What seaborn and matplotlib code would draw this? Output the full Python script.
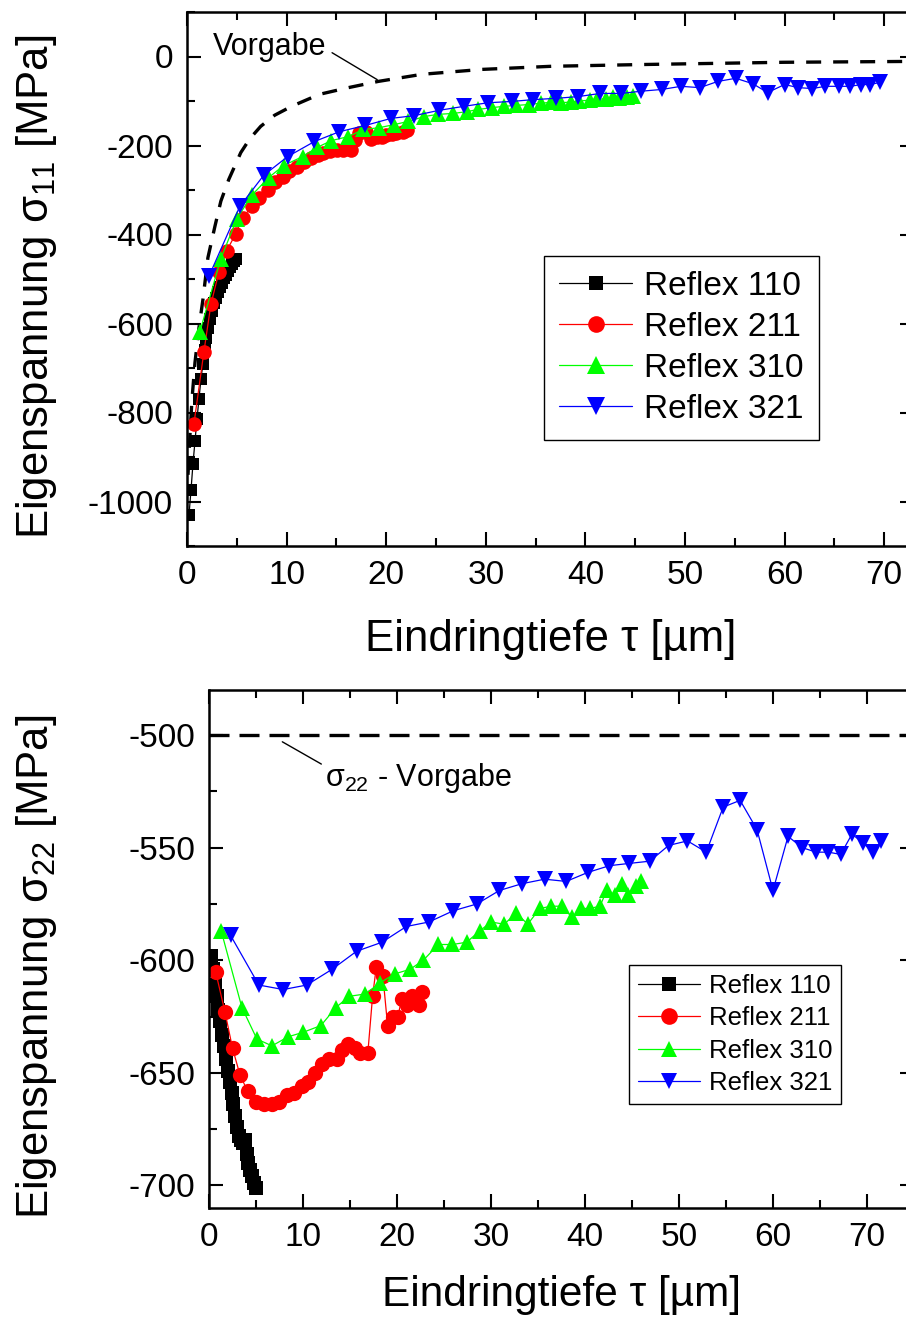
import matplotlib
matplotlib.use("Agg")
import matplotlib.pyplot as plt
from matplotlib.ticker import MultipleLocator
from matplotlib.lines import Line2D
import seaborn as sns

sns.set_theme(style="ticks")
plt.rcParams["font.family"] = ["Liberation Sans", "DejaVu Sans"]
plt.rcParams["mathtext.fontset"] = "custom"
plt.rcParams["mathtext.rm"] = "Liberation Sans"
plt.rcParams["mathtext.it"] = "Liberation Sans"
plt.rcParams["axes.unicode_minus"] = False
for key in ["text.color", "axes.labelcolor", "xtick.color", "ytick.color",
            "axes.edgecolor"]:
    plt.rcParams[key] = "black"

# ---- sigma_11: penetration depth tau [um] and residual stress [MPa] ----
x11_110 = [0.2, 0.4, 0.6, 0.8, 1.0, 1.2, 1.4, 1.6, 1.8, 1.9, 2.1, 2.3, 2.5,
           2.7, 2.9, 3.1, 3.3, 3.5, 3.7, 3.9, 4.1, 4.3, 4.5, 4.7, 4.9]
s11_110 = [-1030, -975, -915, -865, -815, -770, -725, -690, -660, -632, -610,
           -590, -572, -555, -542, -530, -518, -508, -498, -490, -482, -474,
           -467, -460, -455]

x11_211 = [0.7, 1.7, 2.4, 3.2, 4.0, 4.9, 5.6, 6.5, 7.2, 8.1, 8.8, 9.6, 10.2,
           11.0, 11.7, 12.5, 13.2, 13.7, 14.4, 15.1, 15.7, 16.5, 16.9, 17.3,
           18.0, 18.5, 19.1, 19.6, 20.0, 20.6, 21.0, 21.7, 22.1]
s11_211 = [-825, -663, -557, -485, -436, -398, -362, -337, -319, -299, -283,
           -270, -258, -249, -238, -229, -222, -216, -213, -211, -209, -209,
           -188, -172, -170, -186, -182, -180, -176, -174, -171, -169, -165]

x11_310 = [1.3, 3.4, 5.0, 6.5, 8.2, 9.7, 11.6, 13.1, 14.5, 16.2, 17.7, 19.3,
           20.8, 22.2, 23.8, 25.2, 26.7, 28.1, 29.2, 30.6, 31.8, 33.0, 34.3,
           35.5, 36.6, 37.6, 38.6, 39.4, 40.5, 41.2, 42.1, 42.8, 43.4, 44.2,
           44.8]
s11_310 = [-618, -454, -365, -312, -272, -245, -225, -204, -189, -180, -164,
           -160, -153, -146, -135, -130, -128, -124, -119, -115, -112, -110,
           -108, -105, -103, -104, -102, -100, -98, -96, -95, -92, -93, -90, -88]

x11_321 = [2.2, 5.3, 7.7, 10.1, 12.8, 15.3, 17.9, 20.5, 22.8, 25.3, 27.8, 30.2,
           32.6, 34.7, 37.1, 39.3, 41.5, 43.6, 45.6, 47.7, 49.6, 51.5, 53.3,
           55.1, 56.8, 58.3, 60.0, 61.4, 62.8, 64.1, 65.5, 66.6, 67.7, 68.6,
           69.6]
s11_321 = [-494, -337, -267, -225, -191, -169, -155, -139, -133, -121, -112,
           -104, -101, -97, -94, -90, -83, -83, -78, -74, -67, -70, -56, -49,
           -61, -81, -63, -70, -72, -67, -67, -67, -63, -63, -58]

x11_vorgabe = [0.1, 0.3, 0.5, 0.8, 1.2, 1.6, 2.1, 2.8, 3.4, 4.2, 5.4, 6.3,
               7.4, 8.8, 10.5, 13.3, 16.2, 19.2, 23.6, 29.6, 36.6, 45.8,
               59.9, 73.0]
s11_vorgabe = [-940, -850, -771, -688, -610, -546, -452, -382, -325, -276,
               -216, -185, -157, -132, -112, -85, -70, -56, -40, -29, -22,
               -18, -13, -11]

# ---- sigma_22 ----
x22_110 = [0.2, 0.4, 0.6, 0.8, 1.0, 1.2, 1.4, 1.6, 1.8, 2.0, 2.2, 2.4, 2.6,
           2.8, 3.0, 3.2, 3.4, 3.6, 3.8, 4.0, 4.2, 4.4, 4.6, 4.8, 5.0]
s22_110 = [-598, -604, -611, -616, -622, -627, -633, -638, -644, -649, -654,
           -659, -664, -669, -674, -678, -680, -681, -680, -686, -690, -693,
           -696, -699, -701]

x22_211 = [0.7, 1.7, 2.5, 3.3, 4.1, 5.0, 5.8, 6.7, 7.4, 8.3, 9.0, 9.9, 10.5,
           11.3, 12.0, 12.8, 13.6, 14.1, 14.8, 15.5, 16.1, 16.9, 17.4, 17.8,
           18.5, 19.0, 19.6, 20.1, 20.5, 21.1, 21.6, 22.3, 22.7]
s22_211 = [-605, -623, -639, -651, -658, -663, -664, -664, -663, -660, -659,
           -656, -654, -650, -646, -644, -644, -640, -637, -639, -641, -641,
           -616, -603, -607, -629, -625, -625, -617, -620, -616, -620, -614]

x22_310 = [1.3, 3.5, 5.1, 6.7, 8.4, 10.0, 11.9, 13.5, 14.9, 16.6, 18.2, 19.8,
           21.4, 22.8, 24.4, 25.9, 27.4, 28.8, 30.0, 31.4, 32.7, 33.9, 35.2,
           36.4, 37.6, 38.6, 39.6, 40.5, 41.6, 42.3, 43.2, 43.9, 44.6, 45.4,
           46.0]
s22_310 = [-587, -621, -635, -638, -634, -632, -629, -621, -616, -615, -610,
           -606, -604, -600, -593, -593, -592, -587, -583, -584, -579, -584,
           -577, -576, -576, -581, -577, -577, -576, -569, -571, -566, -571,
           -567, -565]

x22_321 = [2.3, 5.3, 7.9, 10.4, 13.1, 15.7, 18.4, 21.0, 23.4, 26.0, 28.5, 30.9,
           33.3, 35.7, 38.0, 40.3, 42.6, 44.7, 46.9, 48.9, 50.9, 52.9, 54.7,
           56.5, 58.3, 60.0, 61.6, 63.1, 64.6, 65.9, 67.2, 68.4, 69.6, 70.6,
           71.5]
s22_321 = [-589, -611, -613, -611, -604, -596, -592, -585, -583, -578, -575,
           -569, -566, -564, -565, -561, -558, -557, -556, -549, -547, -552,
           -532, -529, -542, -569, -545, -550, -552, -552, -553, -544, -548,
           -552, -547]

x22_vorgabe = [0.0, 75.0]
s22_vorgabe = [-500, -500]

labels = ["Reflex 110", "Reflex 211", "Reflex 310", "Reflex 321"]
colors = ["#000000", "#FF0000", "#00FF00", "#0000FF"]
markers = ["s", "o", "^", "v"]

W, H = 906, 1318
fig = plt.figure(figsize=(W / 100, H / 100), dpi=100)


def frac(left, top, right, bottom):
    return [left / W, 1 - bottom / H, (right - left) / W, (bottom - top) / H]


# the frames run a little past the right edge of the sheet
ax1 = fig.add_axes(frac(187, 12, 914, 546))
ax2 = fig.add_axes(frac(209, 690, 914, 1208))

TICK_FS = 24


def draw_series(ax, xs, ys, sizes, leg_sizes):
    handles = []
    for x, y, lab, col, mk, ms, lms in zip(xs, ys, labels, colors, markers,
                                           sizes, leg_sizes):
        sns.lineplot(x=x, y=y, ax=ax, color=col, marker=mk, markersize=ms,
                     markeredgewidth=0, linewidth=0.9, sort=False,
                     estimator=None, legend=False)
        handles.append(Line2D([], [], color=col, marker=mk, markersize=lms,
                              markeredgewidth=0, linewidth=0.9, label=lab))
    return handles


def style_axes(ax, xmajor, ymajor):
    ax.xaxis.set_major_locator(MultipleLocator(xmajor))
    ax.xaxis.set_minor_locator(MultipleLocator(xmajor / 2))
    ax.yaxis.set_major_locator(MultipleLocator(ymajor))
    ax.yaxis.set_minor_locator(MultipleLocator(ymajor / 2))
    ax.tick_params(which="both", direction="in", top=True, right=True,
                   width=1.5, labelsize=TICK_FS, colors="black")
    ax.tick_params(which="major", length=10, pad=10)
    ax.tick_params(which="minor", length=6)
    for sp in ax.spines.values():
        sp.set_linewidth(1.8)
        sp.set_color("black")


# ---------------- sigma_11 ----------------
sns.lineplot(x=x11_vorgabe, y=s11_vorgabe, ax=ax1, color="black",
             linewidth=2.4, sort=False, estimator=None, legend=False)
ax1.lines[-1].set_dashes((4.5, 3.6))
h1 = draw_series(ax1, [x11_110, x11_211, x11_310, x11_321],
                 [s11_110, s11_211, s11_310, s11_321],
                 [9, 10.5, 11, 11], [10.5, 12, 12.5, 12.5])
ax1.set_xlim(0, 73)
ax1.set_ylim(-1100, 100)
style_axes(ax1, 10, 200)
ax1.set_xlabel("Eindringtiefe τ [µm]", fontsize=31.5, labelpad=20)
ax1.set_ylabel("Eigenspannung σ$_{11}$ [MPa]", fontsize=31.5)
ax1.yaxis.set_label_coords((59 - 187) / 727, 0.485)
ax1.annotate("Vorgabe", xy=(19.1, -52), xytext=(2.6, 22), fontsize=22,
             va="center", ha="left",
             arrowprops=dict(arrowstyle="-", color="black", lw=1,
                             shrinkA=0, shrinkB=0, relpos=(1.05, 0.3)))
leg1 = ax1.legend(handles=h1, loc="upper left",
                  bbox_to_anchor=(544 / W, 1 - 256 / H),
                  bbox_transform=fig.transFigure, borderaxespad=0,
                  fontsize=24, handlelength=2.2, labelspacing=0.3,
                  borderpad=0.45, handletextpad=0.35, fancybox=False,
                  framealpha=1, edgecolor="black")
leg1.get_frame().set_linewidth(1.0)

# ---------------- sigma_22 ----------------
sns.lineplot(x=x22_vorgabe, y=s22_vorgabe, ax=ax2, color="black",
             linewidth=2.4, sort=False, estimator=None, legend=False)
ax2.lines[-1].set_dashes((6, 3))
h2 = draw_series(ax2, [x22_110, x22_211, x22_310, x22_321],
                 [s22_110, s22_211, s22_310, s22_321],
                 [9.5, 11, 11, 11], [10.5, 12, 12, 12])
ax2.set_xlim(0, 75)
ax2.set_ylim(-710, -480)
style_axes(ax2, 10, 50)
ax2.set_xlabel("Eindringtiefe τ [µm]", fontsize=30.5, labelpad=16)
ax2.set_ylabel("Eigenspannung σ$_{22}$ [MPa]", fontsize=31.5)
ax2.yaxis.set_label_coords((59 - 209) / 705, 0.465)
ax2.annotate("σ$_{22}$ - Vorgabe", xy=(7.8, -503), xytext=(12.3, -519),
             fontsize=22, va="center", ha="left",
             arrowprops=dict(arrowstyle="-", color="black", lw=1,
                             shrinkA=0, shrinkB=0, relpos=(0.0, 0.85)))
leg2 = ax2.legend(handles=h2, loc="upper left",
                  bbox_to_anchor=(629 / W, 1 - 965 / H),
                  bbox_transform=fig.transFigure, borderaxespad=0,
                  fontsize=18.5, handlelength=2.4, labelspacing=0.33,
                  borderpad=0.35, handletextpad=0.35, fancybox=False,
                  framealpha=1, edgecolor="black")
leg2.get_frame().set_linewidth(1.0)

fig.savefig("out.png", dpi=100)
